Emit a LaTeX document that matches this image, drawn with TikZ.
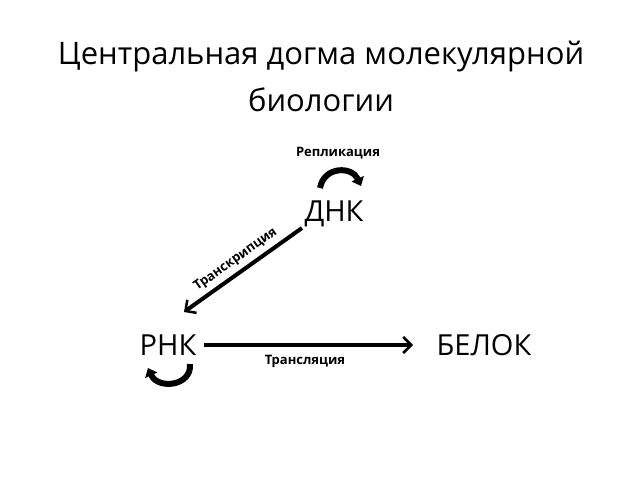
\documentclass[tikz,border=0pt]{standalone}
\usepackage{fontspec}
\setmainfont{Open Sans}
\usetikzlibrary{arrows.meta}
\begin{document}
\begin{tikzpicture}[x=1pt,y=-1pt,
  big/.style={font=\fontsize{29}{32}\selectfont},
  lbl/.style={font=\bfseries\fontsize{13}{15}\selectfont},
  conn/.style={line width=4pt,-{Straight Barb[length=8pt,width=16pt,line width=2.5pt]}},
  loop/.style={line width=6pt,-{Triangle[length=8pt,width=13pt]}}]
\useasboundingbox (0,0) rectangle (638,479);
\node[font=\fontsize{31}{34}\selectfont] (t1) at (321,57) {Центральная догма молекулярной};
\node[font=\fontsize{31}{34}\selectfont] (t2) at (321,100) {биологии};
\node[lbl] (rep) at (338,153) {Репликация};
\node[big] (dnk) at (334,214) {ДНК};
\node[big] (rnk) at (168,345) {РНК};
\node[big] (bel) at (484,345) {БЕЛОК};
\coordinate (a1) at (302,228);
\coordinate (a2) at (184,312);
\draw[conn] (a1) -- (a2) node[midway,sloped,above=1pt,lbl] (tr) {Транскрипция};
\draw[conn] (rnk.east) ++(4,0) coordinate (b1) -- (413,345) coordinate (b2);
\node[lbl] (tl) at (305,361) {Трансляция};
\coordinate (l1) at (320,188);
\coordinate (l2) at (361,186);
\draw[loop] (l1) .. controls (324,166) and (352,166) .. (l2);
\coordinate (m1) at (190,364);
\coordinate (m2) at (148,368);
\draw[loop] (m1) .. controls (192,386) and (158,390) .. (m2);
\end{tikzpicture}
\end{document}
